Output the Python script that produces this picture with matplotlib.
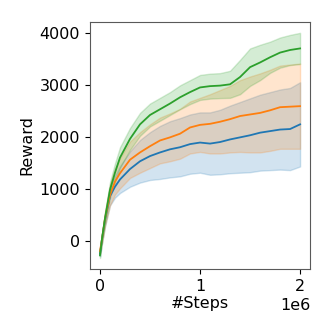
import numpy as np
import matplotlib
matplotlib.use('Agg')
import matplotlib.pyplot as plt

# steps in units of 1e6
steps = [0, 0.02, 0.05, 0.1, 0.15, 0.2, 0.3, 0.4, 0.5, 0.6, 0.7, 0.8, 0.9, 1.0,
         1.1, 1.2, 1.3, 1.4, 1.5, 1.6, 1.7, 1.8, 1.9, 2.0]

blue_mean = [-250, 30, 400, 860, 1040, 1180, 1380, 1530, 1630, 1700, 1760, 1800, 1860, 1890,
             1870, 1900, 1950, 1990, 2030, 2080, 2110, 2140, 2150, 2240]
blue_spread = [50, 80, 130, 180, 210, 260, 340, 410, 460, 510, 540, 560, 570, 580,
               600, 620, 650, 680, 710, 730, 750, 770, 790, 810]

orange_mean = [-200, 30, 420, 880, 1140, 1300, 1560, 1700, 1820, 1930, 1990, 2060, 2180, 2230,
               2250, 2290, 2340, 2400, 2430, 2460, 2510, 2570, 2580, 2590]
orange_spread = [50, 80, 140, 200, 250, 290, 350, 390, 420, 440, 460, 480, 500, 520,
                 570, 610, 640, 690, 730, 760, 780, 800, 810, 820]

green_mean = [-280, 40, 430, 980, 1310, 1600, 1960, 2240, 2420, 2530, 2640, 2760, 2860, 2950,
              2975, 2985, 3010, 3150, 3340, 3430, 3530, 3620, 3670, 3700]
green_spread = [50, 80, 110, 150, 180, 200, 210, 220, 220, 220, 220, 230, 230, 240,
                240, 240, 260, 330, 360, 340, 300, 290, 290, 300]

plt.rcParams['font.size'] = 11.5

fig = plt.figure(figsize=(3.32, 3.32), dpi=100)
ax = fig.add_axes([0.271, 0.190, 0.663, 0.744])

x = np.array(steps) * 1e6
for mean, spread, color in [(blue_mean, blue_spread, 'tab:blue'),
                            (orange_mean, orange_spread, 'tab:orange'),
                            (green_mean, green_spread, 'tab:green')]:
    mean = np.array(mean)
    spread = np.array(spread)
    ax.plot(x, mean, color=color, lw=1.3)
    ax.fill_between(x, mean - spread, mean + spread, color=color, alpha=0.2)

ax.set_ylim(-540, 4210)
ax.set_xticks([0, 1e6, 2e6])
ax.set_yticks([0, 1000, 2000, 3000, 4000])
ax.set_xlabel('#Steps', labelpad=2)
ax.set_ylabel('Reward')
for s in ax.spines.values():
    s.set_color('0.35')

fig.savefig('out.png', dpi=100)
